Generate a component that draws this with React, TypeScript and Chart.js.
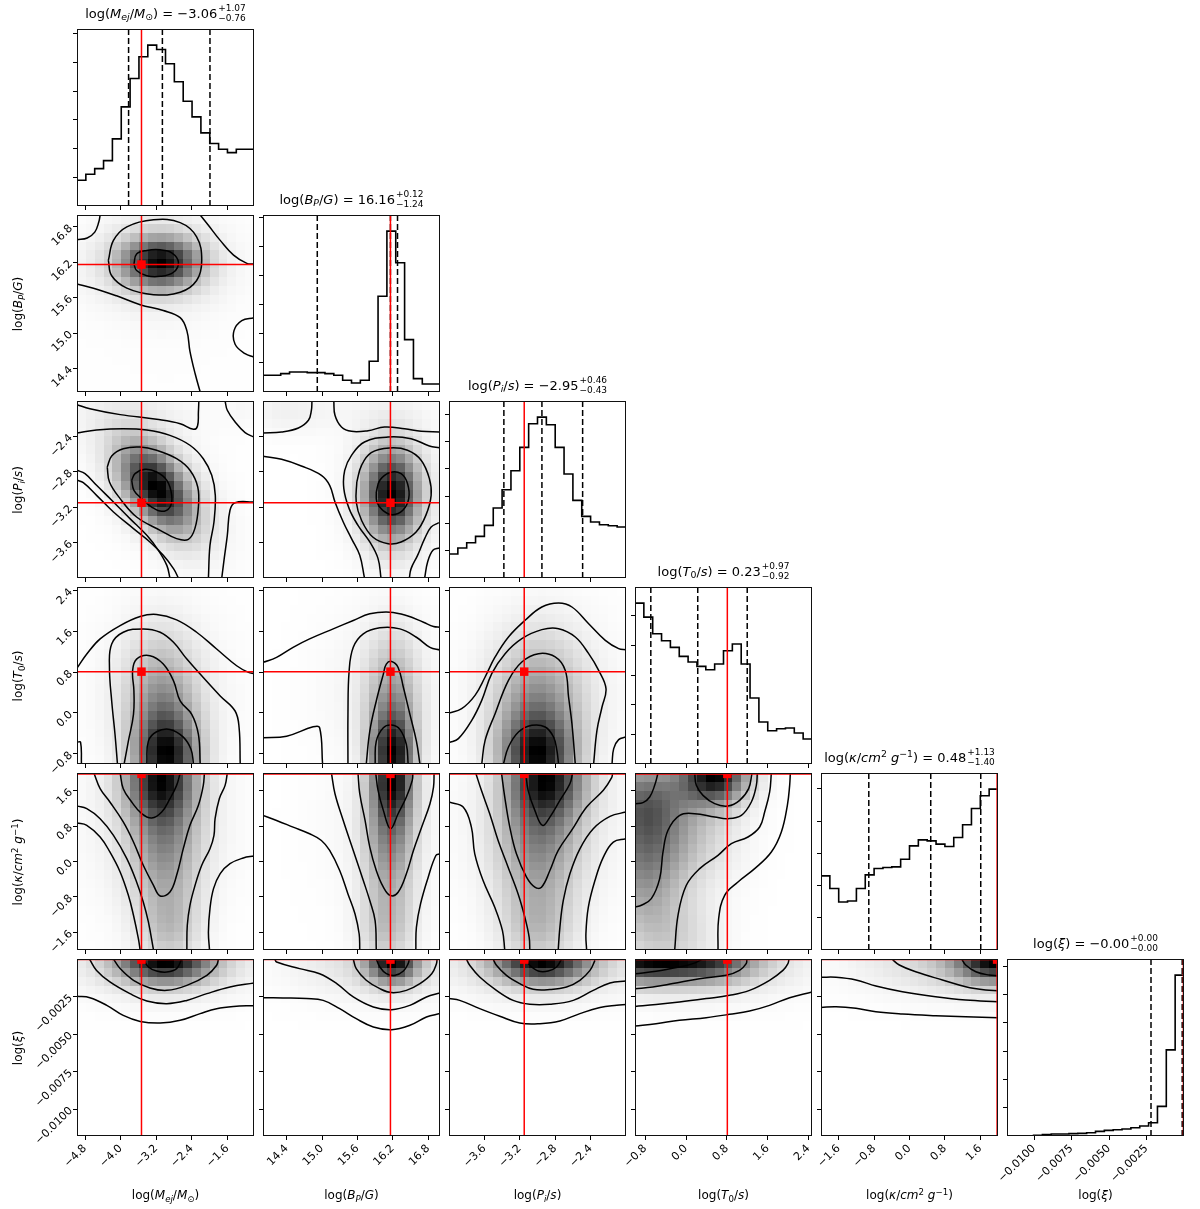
import React, { useEffect, useRef } from "react";
import { Chart, registerables } from "chart.js";

Chart.register(...registerables);

const FONT = "'DejaVu Sans', 'Liberation Sans', sans-serif";

// ---------------- parameter axes ----------------
const RANGE_M = [-4.98, -1.0];
const RANGE_B = [14.0, 17.0];
const RANGE_P = [-4.0, -2.0];
const RANGE_T = [-1.0, 2.47];
const RANGE_K = [-2.0, 2.0];
const RANGE_X = [-0.0118, 0.0];

const TICKS_M = [-4.8, -4.0, -3.2, -2.4, -1.6];
const TICKS_B = [14.4, 15.0, 15.6, 16.2, 16.8];
const TICKS_P = [-3.6, -3.2, -2.8, -2.4];
const TICKS_T = [-0.8, 0.0, 0.8, 1.6, 2.4];
const TICKS_K = [-1.6, -0.8, 0.0, 0.8, 1.6];
const TICKS_X = [-0.01, -0.0075, -0.005, -0.0025];

const TRUTH = [-3.53, 16.16, -3.15, 0.81, 1.98, -0.00004];

// 16%, 50%, 84% quantiles (dashed lines, titles)
const QUANT_M = [-3.82, -3.06, -1.99];
const QUANT_B = [14.92, 16.16, 16.28];
const QUANT_P = [-3.38, -2.95, -2.49];
const QUANT_T = [-0.69, 0.23, 1.2];
const QUANT_K = [-0.92, 0.48, 1.61];
const QUANT_X = [-0.0022, -0.00012, -0.00003];

// ---------------- 1D histograms (20 bins) ----------------
const HIST_M = [77, 95, 112, 136, 201, 297, 382, 447, 482, 469, 426, 372, 314, 267, 219, 187, 170, 160, 170, 170];
const HIST_B = [50, 50, 55, 60, 60, 58, 58, 55, 50, 35, 27, 35, 92, 287, 482, 387, 157, 40, 24, 24];
const HIST_P = [72, 90, 106, 125, 158, 210, 265, 322, 392, 463, 483, 460, 392, 312, 233, 185, 168, 160, 157, 153];
const HIST_T = [483, 441, 391, 370, 350, 323, 306, 293, 283, 300, 340, 360, 300, 198, 126, 100, 106, 108, 93, 75];
const HIST_K = [222, 184, 144, 147, 184, 225, 244, 247, 249, 272, 312, 330, 327, 317, 310, 337, 375, 424, 462, 482];
const HIST_X = [0, 0, 0, 2, 4, 6, 6, 7, 8, 10, 14, 17, 19, 21, 25, 30, 40, 89, 259, 484];
const HIST_YSTEP = [86, 87, 82, 89, 96.5, 85];

// ---------------- 2D density components [cx, cy, sx, sy, rho, amp] ----------------
const DENS_B_M = [[-3.1, 16.2, 0.65, 0.32, 0, 1.0], [-3.2, 16.2, 1.2, 0.6, 0, 0.35], [-3.0, 15.0, 2.0, 1.5, 0, 0.05]];
const DENS_P_M = [[-3.2, -2.98, 0.6, 0.36, -0.5, 1.0], [-3.1, -3.0, 1.1, 0.6, -0.5, 0.35], [-3.5, -2.1, 1.5, 0.25, 0, 0.12], [-1.2, -2.0, 0.3, 0.25, 0, 0.1]];
const DENS_P_B = [[16.18, -3.05, 0.34, 0.38, 0, 1.0], [16.2, -3.05, 0.6, 0.6, 0, 0.35], [14.4, -2.1, 0.5, 0.25, 0, 0.14], [15.5, -2.1, 1.5, 0.2, 0, 0.08]];
const DENS_T_M = [[-2.95, -0.95, 0.55, 0.65, 0, 1.0], [-3.1, 0.3, 0.6, 0.95, 0, 0.5], [-3.0, 0.4, 1.3, 1.4, 0, 0.2]];
const DENS_T_B = [[16.2, -0.95, 0.28, 0.65, 0, 1.0], [16.2, 0.3, 0.33, 0.95, 0, 0.5], [16.0, 0.4, 0.9, 1.4, 0, 0.18]];
const DENS_T_P = [[-3.0, -0.95, 0.32, 0.65, 0, 1.0], [-3.0, 0.3, 0.38, 0.95, 0, 0.5], [-2.9, 0.4, 0.7, 1.4, 0, 0.2]];
const DENS_K_M = [[-3.1, 2.0, 0.6, 0.75, 0, 1.0], [-3.0, 0.3, 0.6, 1.0, 0, 0.55], [-2.9, -1.6, 0.55, 0.7, 0, 0.4], [-3.2, 1.0, 1.4, 1.8, 0, 0.22]];
const DENS_K_B = [[16.2, 2.0, 0.28, 0.8, 0, 1.0], [16.15, 0.3, 0.33, 1.0, 0, 0.55], [16.1, -1.6, 0.38, 0.7, 0, 0.38], [16.0, 1.0, 0.9, 1.8, 0, 0.14]];
const DENS_K_P = [[-2.9, 2.0, 0.33, 0.75, 0, 1.0], [-3.0, 0.3, 0.35, 1.0, 0, 0.55], [-3.0, -1.6, 0.33, 0.7, 0, 0.4], [-2.9, 1.0, 0.75, 1.8, 0, 0.22]];
const DENS_K_T = [[0.6, 2.0, 0.5, 0.5, 0, 1.0], [-0.9, 1.5, 0.65, 0.75, 0, 0.55], [-0.9, -0.2, 0.6, 1.0, 0, 0.5], [0.0, 0.6, 0.85, 0.95, 0, 0.35], [-0.3, -1.8, 0.75, 0.7, 0, 0.3]];
const DENS_X_M = [[-3.0, 0.0, 0.8, 0.0012, 0, 1.0], [-3.0, 0.0, 1.7, 0.0021, 0, 0.35]];
const DENS_X_B = [[16.2, 0.0, 0.32, 0.0012, 0, 1.0], [16.0, 0.0, 1.2, 0.0021, 0, 0.35]];
const DENS_X_P = [[-2.95, 0.0, 0.4, 0.0012, 0, 1.0], [-2.9, 0.0, 1.0, 0.0021, 0, 0.35]];
const DENS_X_T = [[-0.9, 0.0, 0.9, 0.0012, 0, 1.0], [0.6, 0.0, 0.7, 0.0011, 0, 0.6], [0.3, 0.0, 1.8, 0.0021, 0, 0.35]];
const DENS_X_K = [[2.0, 0.0, 0.7, 0.0012, 0, 1.0], [1.0, 0.0, 1.7, 0.0019, 0, 0.4]];

// ---------------- contour lines (data coordinates [x, y]) ----------------
const CONT_B_M = [
  [[-3.7, 16.17], [-3.64, 16.34], [-3.41, 16.4], [-3.11, 16.41], [-2.85, 16.36], [-2.7, 16.2], [-2.81, 16.03], [-3.11, 15.96], [-3.41, 15.97], [-3.64, 16.06], [-3.7, 16.17]],
  [[-4.275, 16.23], [-4.16, 16.57], [-3.86, 16.8], [-3.26, 16.92], [-2.66, 16.87], [-2.29, 16.63], [-2.175, 16.23], [-2.29, 15.89], [-2.66, 15.69], [-3.26, 15.65], [-3.86, 15.76], [-4.2, 15.97], [-4.275, 16.23]],
  [[-4.98, 16.58], [-4.75, 16.61], [-4.58, 16.71], [-4.49, 16.88], [-4.46, 17.0]],
  [[-2.21, 17.0], [-2.03, 16.83], [-1.76, 16.57], [-1.46, 16.32], [-1.16, 16.18], [-1.0, 16.17]],
  [[-4.98, 15.83], [-4.61, 15.76], [-4.09, 15.63], [-3.56, 15.48], [-3.04, 15.38], [-2.66, 15.26], [-2.51, 15.04], [-2.44, 14.69], [-2.32, 14.3], [-2.21, 14.0]],
  [[-1.0, 15.26], [-1.275, 15.21], [-1.45, 15.04], [-1.425, 14.81], [-1.2, 14.65], [-1.0, 14.59]],
];
const CONT_P_M = [
  [[-3.75, -2.896], [-3.675, -2.821], [-3.45, -2.772], [-3.19, -2.802], [-2.96, -2.896], [-2.85, -3.066], [-2.89, -3.198], [-3.075, -3.247], [-3.3, -3.198], [-3.525, -3.103], [-3.7, -3.009], [-3.75, -2.896]],
  [[-4.3, -2.746], [-4.2, -2.621], [-3.94, -2.539], [-3.56, -2.52], [-3.19, -2.557], [-2.74, -2.652], [-2.44, -2.783], [-2.265, -2.972], [-2.25, -3.198], [-2.33, -3.442], [-2.475, -3.563], [-2.74, -3.555], [-3.11, -3.461], [-3.64, -3.311], [-4.01, -3.103], [-4.25, -2.915], [-4.3, -2.746]],
  [[-4.98, -2.041], [-4.69, -2.087], [-4.01, -2.154], [-3.19, -2.207], [-2.66, -2.256], [-2.36, -2.32], [-2.27, -2.282], [-2.25, -2.124], [-2.24, -2.0]],
  [[-1.65, -2.0], [-1.6, -2.105], [-1.425, -2.237], [-1.2, -2.358], [-1.0, -2.407]],
  [[-4.98, -2.362], [-4.54, -2.328], [-3.94, -2.313], [-3.41, -2.328], [-2.89, -2.388], [-2.44, -2.5], [-2.14, -2.652], [-1.95, -2.84], [-1.87, -3.066], [-1.9, -3.367], [-1.99, -3.631], [-2.025, -4.0]],
  [[-1.0, -3.141], [-1.425, -3.149], [-1.54, -3.235], [-1.6, -3.518], [-1.67, -3.781], [-1.725, -4.0]],
  [[-4.98, -2.783], [-4.8, -2.821], [-4.54, -2.953], [-4.16, -3.141], [-3.79, -3.329], [-3.41, -3.518], [-3.15, -3.687], [-2.96, -3.857], [-2.89, -4.0]],
  [[-4.98, -2.896], [-4.838, -2.923], [-4.54, -3.066], [-4.16, -3.254], [-3.71, -3.442], [-3.34, -3.593], [-3.04, -3.744], [-2.81, -3.894], [-2.7, -4.0]],
];
const CONT_P_B = [
  [[15.92, -3.028], [15.98, -2.896], [16.145, -2.81], [16.34, -2.821], [16.45, -2.934], [16.47, -3.103], [16.37, -3.235], [16.2, -3.284], [16.03, -3.235], [15.93, -3.141], [15.92, -3.028]],
  [[15.59, -2.915], [15.67, -2.727], [15.835, -2.584], [16.145, -2.531], [16.45, -2.557], [16.68, -2.67], [16.82, -2.877], [16.85, -3.066], [16.76, -3.292], [16.595, -3.48], [16.34, -3.593], [16.12, -3.612], [15.86, -3.537], [15.67, -3.348], [15.58, -3.141], [15.59, -2.915]],
  [[16.99, -2.527], [16.82, -2.508], [16.51, -2.426], [16.12, -2.407], [15.72, -2.463], [15.5, -2.614], [15.385, -2.783], [15.37, -2.99], [15.46, -3.216], [15.61, -3.405], [15.81, -3.593], [15.95, -3.781], [16.0, -4.0]],
  [[16.98, -3.375], [16.85, -3.424], [16.74, -3.555], [16.62, -3.744], [16.51, -3.894], [16.48, -4.0]],
  [[14.83, -2.0], [14.82, -2.105], [14.77, -2.218], [14.6, -2.305], [14.315, -2.35], [14.0, -2.362]],
  [[15.2, -2.0], [15.22, -2.162], [15.33, -2.294], [15.5, -2.343], [15.78, -2.335], [16.06, -2.294], [16.4, -2.313], [16.68, -2.343], [16.99, -2.35]],
  [[14.0, -2.625], [14.315, -2.659], [14.65, -2.734], [14.99, -2.84], [15.13, -2.953], [15.22, -3.141], [15.36, -3.367], [15.5, -3.555], [15.64, -3.744], [15.72, -4.0]],
  [[16.99, -3.661], [16.88, -3.687], [16.79, -3.819], [16.74, -4.0]],
];
const CONT_T_M = [
  [[-4.98, 0.88], [-4.76, 1.156], [-4.46, 1.452], [-4.01, 1.714], [-3.56, 1.892], [-3.19, 1.931], [-2.74, 1.826], [-2.29, 1.583], [-1.84, 1.254], [-1.39, 0.926], [-1.125, 0.795], [-1.0, 0.775]],
  [[-4.07, -1.0], [-4.125, -0.421], [-4.2, 0.236], [-4.25, 0.893], [-4.2, 1.353], [-3.94, 1.583], [-3.49, 1.649], [-3.11, 1.583], [-2.81, 1.386], [-2.51, 1.057], [-2.14, 0.696], [-1.76, 0.335], [-1.425, 0.039], [-1.335, -0.289], [-1.31, -1.0]],
  [[-3.92, -1.0], [-3.825, -0.552], [-3.71, -0.027], [-3.7, 0.433], [-3.73, 0.827], [-3.64, 1.057], [-3.34, 1.123], [-3.04, 0.959], [-2.81, 0.63], [-2.66, 0.236], [-2.4, -0.027], [-2.25, -0.421], [-2.21, -1.0]],
  [[-3.41, -1.0], [-3.375, -0.552], [-3.19, -0.368], [-2.89, -0.322], [-2.59, -0.473], [-2.415, -0.716], [-2.36, -1.0]],
  [[-4.98, -0.572], [-4.9, -0.572], [-4.88, -1.0]],
];
const CONT_T_B = [
  [[14.0, 0.992], [14.23, 1.09], [14.51, 1.287], [14.79, 1.452], [15.19, 1.649], [15.53, 1.813], [15.81, 1.944], [16.15, 1.977], [16.43, 1.912], [16.72, 1.78], [16.89, 1.695], [17.0, 1.682]],
  [[15.44, -1.0], [15.44, -0.027], [15.46, 0.827], [15.53, 1.287], [15.7, 1.55], [15.98, 1.669], [16.32, 1.649], [16.6, 1.485], [16.83, 1.287], [17.0, 1.235]],
  [[15.75, -1.0], [15.81, -0.355], [15.92, 0.236], [16.04, 0.762], [16.09, 0.959], [16.18, 1.011], [16.29, 0.893], [16.38, 0.499], [16.49, -0.027], [16.6, -0.552], [16.66, -1.0]],
  [[15.9, -1.0], [15.92, -0.552], [16.04, -0.289], [16.18, -0.237], [16.32, -0.322], [16.43, -0.618], [16.46, -1.0]],
  [[14.0, -0.487], [14.4, -0.454], [14.85, -0.27], [14.96, -0.289], [15.01, -1.0]],
];
const CONT_T_P = [
  [[-4.0, 0.0], [-3.857, 0.085], [-3.706, 0.346], [-3.592, 0.706], [-3.479, 1.098], [-3.328, 1.49], [-3.14, 1.817], [-2.951, 2.078], [-2.762, 2.156], [-2.611, 2.078], [-2.422, 1.751], [-2.234, 1.424], [-2.083, 1.261], [-2.0, 1.241]],
  [[-4.0, -0.582], [-3.894, -0.503], [-3.743, -0.144], [-3.63, 0.248], [-3.517, 0.771], [-3.366, 1.163], [-3.177, 1.457], [-2.951, 1.634], [-2.762, 1.653], [-2.573, 1.49], [-2.422, 1.163], [-2.309, 0.836], [-2.226, 0.477], [-2.271, 0.117], [-2.328, -0.34], [-2.366, -1.0]],
  [[-3.63, -1.0], [-3.592, -0.536], [-3.479, -0.013], [-3.328, 0.64], [-3.177, 1.0], [-2.989, 1.163], [-2.8, 1.098], [-2.687, 0.836], [-2.649, 0.313], [-2.611, -0.209], [-2.573, -1.0]],
  [[-3.385, -1.0], [-3.328, -0.667], [-3.215, -0.373], [-3.064, -0.242], [-2.913, -0.275], [-2.819, -0.471], [-2.781, -0.732], [-2.762, -1.0]],
  [[-2.158, -1.0], [-2.139, -0.699], [-2.083, -0.523], [-2.0, -0.471]],
];
const CONT_K_M = [
  [[-4.01, 2.0], [-3.94, 1.646], [-3.75, 1.345], [-3.525, 1.081], [-3.3, 0.983], [-3.075, 1.119], [-2.89, 1.42], [-2.74, 1.72], [-2.66, 2.0]],
  [[-4.6, 2.0], [-4.46, 1.646], [-4.24, 1.345], [-3.94, 0.893], [-3.71, 0.441], [-3.49, -0.086], [-3.26, -0.538], [-3.11, -0.779], [-2.89, -0.688], [-2.74, -0.312], [-2.59, 0.29], [-2.44, 0.818], [-2.25, 1.27], [-2.14, 1.72], [-2.115, 2.0]],
  [[-4.98, 1.255], [-4.76, 1.194], [-4.46, 0.968], [-4.16, 0.592], [-3.86, 0.065], [-3.64, -0.462], [-3.49, -0.914], [-3.375, -1.366], [-3.26, -2.0]],
  [[-4.98, 0.87], [-4.76, 0.818], [-4.46, 0.554], [-4.24, 0.215], [-4.01, -0.236], [-3.825, -0.764], [-3.71, -1.215], [-3.6, -1.742], [-3.56, -2.0]],
  [[-1.6, 2.0], [-1.65, 1.72], [-1.78, 1.42], [-1.875, 0.968], [-1.9, 0.592], [-1.99, 0.29], [-2.175, -0.086], [-2.325, -0.538], [-2.44, -0.99], [-2.5, -1.441], [-2.51, -2.0]],
  [[-1.0, 0.125], [-1.24, 0.08], [-1.54, -0.048], [-1.76, -0.274], [-1.91, -0.613], [-1.99, -1.065], [-2.025, -1.592], [-2.0, -2.0]],
];
const CONT_K_B = [
  [[15.91, 2.0], [15.95, 1.608], [16.04, 1.155], [16.16, 0.74], [16.29, 1.079], [16.43, 1.457], [16.53, 1.834], [16.54, 2.0]],
  [[15.61, 2.0], [15.64, 1.532], [15.73, 0.928], [15.81, 0.325], [15.92, -0.204], [16.04, -0.581], [16.16, -0.77], [16.29, -0.694], [16.43, -0.279], [16.55, 0.249], [16.69, 0.777], [16.83, 1.306], [16.89, 1.683], [16.9, 2.0]],
  [[15.16, 2.0], [15.22, 1.532], [15.36, 0.928], [15.53, 0.249], [15.7, -0.43], [15.81, -0.883], [15.9, -1.336], [15.92, -2.0]],
  [[14.0, 1.042], [14.23, 0.928], [14.51, 0.777], [14.79, 0.626], [14.99, 0.475], [15.13, 0.249], [15.3, -0.204], [15.44, -0.732], [15.56, -1.185], [15.63, -1.638], [15.64, -2.0]],
  [[17.0, 0.174], [16.93, 0.136], [16.8, -0.355], [16.67, -0.958], [16.6, -1.487], [16.59, -2.0]],
];
const CONT_K_P = [
  [[-3.132, 2.0], [-3.106, 1.608], [-3.03, 1.155], [-2.943, 0.815], [-2.86, 1.004], [-2.747, 1.381], [-2.634, 1.758], [-2.604, 2.0]],
  [[-3.407, 2.0], [-3.37, 1.457], [-3.313, 0.777], [-3.238, 0.174], [-3.124, -0.355], [-3.03, -0.581], [-2.955, -0.581], [-2.86, -0.204], [-2.766, 0.249], [-2.615, 0.702], [-2.445, 1.23], [-2.256, 1.608], [-2.162, 1.894], [-2.151, 2.0]],
  [[-3.698, 2.0], [-3.634, 1.608], [-3.54, 1.079], [-3.445, 0.475], [-3.332, -0.128], [-3.219, -0.732], [-3.143, -1.26], [-3.094, -1.713], [-3.087, -2.0]],
  [[-4.0, 1.343], [-3.84, 1.23], [-3.747, 0.777], [-3.709, 0.174], [-3.615, -0.43], [-3.483, -1.034], [-3.396, -1.562], [-3.37, -2.0]],
  [[-2.0, 1.117], [-2.181, 1.019], [-2.37, 0.74], [-2.521, 0.287], [-2.634, -0.279], [-2.709, -0.883], [-2.747, -1.487], [-2.766, -2.0]],
  [[-2.0, 0.513], [-2.143, 0.438], [-2.256, 0.098], [-2.351, -0.43], [-2.426, -1.034], [-2.453, -1.638], [-2.445, -2.0]],
];
const CONT_K_T = [
  [[0.17, 2.0], [0.202, 1.721], [0.333, 1.495], [0.562, 1.307], [0.823, 1.255], [1.052, 1.383], [1.228, 1.646], [1.294, 2.0]],
  [[-1.0, -1.027], [-0.876, -0.989], [-0.68, -0.839], [-0.516, -0.387], [-0.451, 0.215], [-0.353, 0.705], [-0.124, 1.044], [0.17, 1.081], [0.562, 1.006], [0.823, 0.968], [1.085, 1.044], [1.281, 1.345], [1.379, 1.721], [1.398, 2.0]],
  [[-0.222, -2.0], [-0.157, -1.215], [0.006, -0.538], [0.268, -0.161], [0.627, 0.14], [0.889, 0.404], [1.215, 0.554], [1.444, 0.78], [1.542, 1.119], [1.64, 1.571], [1.673, 2.0]],
  [[0.627, -2.0], [0.64, -1.291], [0.758, -0.764], [1.019, -0.462], [1.346, -0.161], [1.673, 0.215], [1.869, 0.667], [1.987, 1.27], [2.032, 1.721], [2.045, 2.0]],
  [[-1.0, 1.307], [-0.843, 1.33], [-0.712, 1.458], [-0.614, 1.721], [-0.549, 2.0]],
];
const CONT_X_M = [
  [[-3.49, 0], [-3.375, -0.00053], [-3.19, -0.0008], [-2.96, -0.00087], [-2.74, -0.00064], [-2.625, 0]],
  [[-4.16, 0], [-4.01, -0.00064], [-3.71, -0.00142], [-3.34, -0.00193], [-2.96, -0.00209], [-2.51, -0.00176], [-2.06, -0.00109], [-1.84, -0.00042], [-1.8, 0]],
  [[-4.7, 0], [-4.54, -0.00076], [-4.24, -0.00153], [-3.79, -0.00231], [-3.41, -0.0028], [-2.96, -0.00298], [-2.51, -0.00276], [-2.06, -0.00231], [-1.54, -0.00187], [-1.0, -0.0016]],
  [[-4.98, -0.00249], [-4.69, -0.00258], [-4.31, -0.00309], [-3.94, -0.00376], [-3.56, -0.00416], [-3.11, -0.00427], [-2.66, -0.00409], [-2.21, -0.00364], [-1.84, -0.00331], [-1.46, -0.00316], [-1.0, -0.00311]],
];
const CONT_X_B = [
  [[15.92, 0], [15.98, -0.00053], [16.09, -0.00098], [16.24, -0.00109], [16.38, -0.0008], [16.46, -0.00031], [16.48, 0]],
  [[15.53, 0], [15.58, -0.00064], [15.75, -0.00142], [15.98, -0.00198], [16.18, -0.00224], [16.43, -0.00209], [16.66, -0.00164], [16.86, -0.00098], [16.94, -0.00031], [16.95, 0]],
  [[14.2, 0], [14.23, -0.0002], [14.62, -0.00064], [14.96, -0.00098], [15.25, -0.00164], [15.53, -0.00253], [15.87, -0.0032], [16.18, -0.00338], [16.49, -0.00309], [16.77, -0.00253], [17.0, -0.00227]],
  [[14.0, -0.00258], [14.34, -0.0026], [14.74, -0.00264], [15.02, -0.00276], [15.3, -0.00331], [15.58, -0.00398], [15.87, -0.00453], [16.18, -0.00471], [16.49, -0.00442], [16.77, -0.00387], [17.0, -0.00364]],
];
const CONT_X_P = [
  [[-3.132, 0], [-3.087, -0.00042], [-2.992, -0.0008], [-2.879, -0.0008], [-2.785, -0.00053], [-2.728, 0]],
  [[-3.502, 0], [-3.464, -0.00042], [-3.351, -0.00109], [-3.2, -0.00164], [-3.049, -0.00202], [-2.86, -0.00204], [-2.672, -0.00187], [-2.521, -0.00142], [-2.407, -0.00076], [-2.351, -0.00009]],
  [[-3.804, 0], [-3.766, -0.00042], [-3.653, -0.0012], [-3.464, -0.00209], [-3.275, -0.00276], [-3.087, -0.00302], [-2.86, -0.00302], [-2.596, -0.00276], [-2.37, -0.00209], [-2.181, -0.0016], [-2.0, -0.00147]],
  [[-4.0, -0.00264], [-3.879, -0.00276], [-3.653, -0.00331], [-3.426, -0.00382], [-3.2, -0.00427], [-2.973, -0.00431], [-2.747, -0.00413], [-2.521, -0.00364], [-2.294, -0.00324], [-2.105, -0.00309], [-2.0, -0.00304]],
];
const CONT_X_T = [
  [[-1.0, -0.00098], [-0.588, -0.00082], [-0.129, -0.00053], [0.133, -0.00031], [0.329, 0]],
  [[-1.0, -0.00198], [-0.653, -0.00187], [-0.26, -0.00164], [0.264, -0.00131], [0.787, -0.00109], [1.049, -0.00076], [1.18, -0.00031], [1.193, 0]],
  [[-1.0, -0.00316], [-0.588, -0.00304], [-0.129, -0.00287], [0.395, -0.00264], [0.853, -0.00242], [1.246, -0.00209], [1.638, -0.00142], [1.9, -0.00076], [1.998, -0.00031], [2.018, 0]],
  [[-1.0, -0.00447], [-0.588, -0.00431], [-0.129, -0.00409], [0.395, -0.00391], [0.853, -0.00369], [1.246, -0.00347], [1.638, -0.00309], [2.031, -0.00258], [2.47, -0.0022]],
];
const CONT_X_K = [
  [[1.18, 0], [1.27, -0.0004], [1.5, -0.00085], [1.8, -0.00107], [2.0, -0.00111]],
  [[-0.4, 0], [-0.23, -0.0004], [0.14, -0.00085], [0.745, -0.0014], [1.27, -0.00185], [1.72, -0.00207], [2.0, -0.00211]],
  [[-2.0, -0.00122], [-1.66, -0.00122], [-1.21, -0.0014], [-0.76, -0.0018], [-0.16, -0.00218], [0.59, -0.00252], [1.27, -0.00274], [2.0, -0.00285]],
  [[-2.0, -0.00323], [-1.66, -0.00318], [-1.21, -0.00329], [-0.76, -0.00352], [-0.16, -0.00367], [0.59, -0.00378], [1.27, -0.00385], [2.0, -0.00392]],
];

// ---------------- assembled lookups ----------------
const PARAMS = [
  { range: RANGE_M, ticks: TICKS_M, quant: QUANT_M, hist: HIST_M, dec: 1 },
  { range: RANGE_B, ticks: TICKS_B, quant: QUANT_B, hist: HIST_B, dec: 1 },
  { range: RANGE_P, ticks: TICKS_P, quant: QUANT_P, hist: HIST_P, dec: 1 },
  { range: RANGE_T, ticks: TICKS_T, quant: QUANT_T, hist: HIST_T, dec: 1 },
  { range: RANGE_K, ticks: TICKS_K, quant: QUANT_K, hist: HIST_K, dec: 1 },
  { range: RANGE_X, ticks: TICKS_X, quant: QUANT_X, hist: HIST_X, dec: 4 },
];
const PAIRS: Record<string, { cont: number[][][]; dens: number[][] }> = {
  "1-0": { cont: CONT_B_M, dens: DENS_B_M },
  "2-0": { cont: CONT_P_M, dens: DENS_P_M },
  "2-1": { cont: CONT_P_B, dens: DENS_P_B },
  "3-0": { cont: CONT_T_M, dens: DENS_T_M },
  "3-1": { cont: CONT_T_B, dens: DENS_T_B },
  "3-2": { cont: CONT_T_P, dens: DENS_T_P },
  "4-0": { cont: CONT_K_M, dens: DENS_K_M },
  "4-1": { cont: CONT_K_B, dens: DENS_K_B },
  "4-2": { cont: CONT_K_P, dens: DENS_K_P },
  "4-3": { cont: CONT_K_T, dens: DENS_K_T },
  "5-0": { cont: CONT_X_M, dens: DENS_X_M },
  "5-1": { cont: CONT_X_B, dens: DENS_X_B },
  "5-2": { cont: CONT_X_P, dens: DENS_X_P },
  "5-3": { cont: CONT_X_T, dens: DENS_X_T },
  "5-4": { cont: CONT_X_K, dens: DENS_X_K },
};

// ---------------- layout ----------------
const N = 6;
const X0 = 77;
const Y0 = 29;
const STEP = 186;
const SIZE = 177;
const PAD_L = 70;
const PAD_B = 70;
const PAD_T = 20;
const PAD_R = 20;
const CW = PAD_L + SIZE + PAD_R;
const CH = PAD_T + SIZE + PAD_B;
const NBINS = 20;
const GAMMA = 1.5;

const minus = (s: string) => s.replace(/-/g, "\u2212");
const fmt = (v: number, dec: number) => minus(Number(v).toFixed(dec));

function axisOptions(isX: boolean, min: number, max: number, ticks: number[], labels: boolean, dec: number) {
  return {
    type: "linear",
    position: isX ? "bottom" : "left",
    min,
    max,
    afterBuildTicks: (s: any) => {
      s.ticks = ticks.map((v) => ({ value: v }));
    },
    afterFit: (s: any) => {
      if (isX) s.height = PAD_B;
      else s.width = PAD_L;
    },
    ticks: {
      display: labels,
      autoSkip: false,
      minRotation: 45,
      maxRotation: 45,
      padding: 2,
      color: "#000",
      font: { family: FONT, size: 11 },
      callback: (v: any) => fmt(v, dec),
    },
    grid: { display: true, drawOnChartArea: false, drawTicks: true, tickLength: 4, tickColor: "#000", tickWidth: 1 },
    border: { display: false },
  };
}

const framePlugin = {
  id: "frame",
  afterDraw(chart: any) {
    const { ctx, chartArea: a } = chart;
    ctx.save();
    ctx.strokeStyle = "#111";
    ctx.lineWidth = 1;
    ctx.strokeRect(Math.round(a.left) + 0.5, Math.round(a.top) + 0.5, Math.round(a.right - a.left) - 1, Math.round(a.bottom - a.top) - 1);
    ctx.restore();
  },
};

function densityPlugin(blobs: number[][], rx: number[], ry: number[]) {
  return {
    id: "density",
    beforeDatasetsDraw(chart: any) {
      const { ctx, chartArea: a, scales } = chart;
      const xs = scales.x;
      const ys = scales.y;
      const dx = (rx[1] - rx[0]) / NBINS;
      const dy = (ry[1] - ry[0]) / NBINS;
      const vals: number[][] = [];
      let mx = 0;
      for (let i = 0; i < NBINS; i++) {
        vals.push([]);
        for (let j = 0; j < NBINS; j++) {
          const x = rx[0] + (i + 0.5) * dx;
          const y = ry[0] + (j + 0.5) * dy;
          let d = 0;
          for (const [cx, cy, sx, sy, rho, amp] of blobs) {
            const u = (x - cx) / sx;
            const w = (y - cy) / sy;
            const q = (u * u - 2 * rho * u * w + w * w) / (1 - rho * rho);
            d += amp * Math.exp(-0.5 * q);
          }
          vals[i].push(d);
          if (d > mx) mx = d;
        }
      }
      ctx.save();
      ctx.beginPath();
      ctx.rect(a.left, a.top, a.right - a.left, a.bottom - a.top);
      ctx.clip();
      for (let i = 0; i < NBINS; i++) {
        const px0 = Math.round(xs.getPixelForValue(rx[0] + i * dx));
        const px1 = Math.round(xs.getPixelForValue(rx[0] + (i + 1) * dx));
        for (let j = 0; j < NBINS; j++) {
          const py0 = Math.round(ys.getPixelForValue(ry[0] + j * dy));
          const py1 = Math.round(ys.getPixelForValue(ry[0] + (j + 1) * dy));
          const f = vals[i][j] / mx;
          const g = Math.round(255 * (1 - Math.pow(f, GAMMA)));
          ctx.fillStyle = `rgb(${g},${g},${g})`;
          ctx.fillRect(px0, py1, px1 - px0, py0 - py1);
        }
      }
      ctx.restore();
    },
  };
}

function vLine(x: number, y0: number, y1: number, color: string, dash: number[] = []) {
  return {
    data: [{ x, y: y0 }, { x, y: y1 }],
    showLine: true,
    borderColor: color,
    borderWidth: 1.5,
    borderDash: dash,
    pointRadius: 0,
    clip: 0,
  };
}
function hLine(y: number, x0: number, x1: number, color: string) {
  return {
    data: [{ x: x0, y }, { x: x1, y }],
    showLine: true,
    borderColor: color,
    borderWidth: 1.5,
    pointRadius: 0,
    clip: 0,
  };
}

function buildConfig(r: number, c: number) {
  const px = PARAMS[c];
  const xAxis = axisOptions(true, px.range[0], px.range[1], px.ticks, r === N - 1, px.dec);
  let yAxis: any;
  let datasets: any[] = [];
  const plugins: any[] = [framePlugin];

  if (r === c) {
    const h = px.hist;
    const top = 1.1 * Math.max(...h);
    const step = HIST_YSTEP[c];
    const yt: number[] = [];
    for (let v = step; v <= top; v += step) yt.push(v);
    yAxis = axisOptions(false, 0, top, yt, false, 0);
    const bw = (px.range[1] - px.range[0]) / NBINS;
    const stepPts: any[] = [];
    h.forEach((v, i) => {
      stepPts.push({ x: px.range[0] + i * bw, y: v });
      stepPts.push({ x: px.range[0] + (i + 1) * bw, y: v });
    });
    datasets = [
      vLine(TRUTH[c], 0, top, "#ff0000"),
      ...px.quant.map((q) => vLine(q, 0, top, "#000", [6, 3])),
      { data: stepPts, showLine: true, borderColor: "#000", borderWidth: 1.6, pointRadius: 0, borderJoinStyle: "miter", clip: 0 },
    ];
  } else {
    const py = PARAMS[r];
    yAxis = axisOptions(false, py.range[0], py.range[1], py.ticks, c === 0, py.dec);
    const pair = PAIRS[`${r}-${c}`];
    plugins.push(densityPlugin(pair.dens, px.range, py.range));
    datasets = [
      {
        data: [{ x: TRUTH[c], y: TRUTH[r] }],
        pointStyle: "rect",
        pointRadius: 6,
        backgroundColor: "#ff0000",
        borderWidth: 0,
        showLine: false,
        clip: 0,
      },
      vLine(TRUTH[c], py.range[0], py.range[1], "#ff0000"),
      hLine(TRUTH[r], px.range[0], px.range[1], "#ff0000"),
      ...pair.cont.map((line) => ({
        data: line.map(([x, y]) => ({ x, y })),
        showLine: true,
        borderColor: "#000",
        borderWidth: 1.5,
        pointRadius: 0,
        tension: 0.4,
        clip: 0,
      })),
    ];
  }

  return {
    type: "scatter",
    data: { datasets },
    options: {
      animation: false,
      responsive: false,
      maintainAspectRatio: false,
      events: [],
      layout: { padding: { left: 0, top: PAD_T, right: PAD_R, bottom: 0 } },
      plugins: { legend: { display: false }, tooltip: { enabled: false }, title: { display: false } },
      scales: { x: xAxis, y: yAxis },
    },
    plugins,
  } as any;
}

// ---------------- text ----------------
const Sub = ({ children }: any) => <span style={{ fontSize: "0.72em", position: "relative", top: "0.32em" }}>{children}</span>;
const Sup = ({ children }: any) => <span style={{ fontSize: "0.72em", position: "relative", top: "-0.45em" }}>{children}</span>;

const LABELS = [
  <>log(<i>M</i><Sub><i>ej</i></Sub>/<i>M</i><Sub>⊙</Sub>)</>,
  <>log(<i>B</i><Sub><i>P</i></Sub>/<i>G</i>)</>,
  <>log(<i>P</i><Sub><i>i</i></Sub>/<i>s</i>)</>,
  <>log(<i>T</i><Sub>0</Sub>/<i>s</i>)</>,
  <>log(<i>κ</i>/<i>cm</i><Sup>2</Sup> <i>g</i><Sup>−1</Sup>)</>,
  <>log(<i>ξ</i>)</>,
];

const PANELS: { r: number; c: number }[] = [];
for (let r = 0; r < N; r++) for (let c = 0; c <= r; c++) PANELS.push({ r, c });

export default function App() {
  const refs = useRef<Record<string, HTMLCanvasElement | null>>({});

  useEffect(() => {
    Chart.defaults.font.family = FONT;
    const charts: Chart[] = [];
    for (const p of PANELS) {
      const cv = refs.current[`${p.r}-${p.c}`];
      if (cv) charts.push(new Chart(cv, buildConfig(p.r, p.c)));
    }
    return () => charts.forEach((ch) => ch.destroy());
  }, []);

  return (
    <div style={{ position: "absolute", left: 0, top: 0, width: 1200, height: 1209, background: "#fff", fontFamily: FONT, color: "#000", overflow: "hidden" }}>
      {PANELS.map((p) => (
        <canvas
          key={`${p.r}-${p.c}`}
          ref={(el) => {
            refs.current[`${p.r}-${p.c}`] = el;
          }}
          width={CW}
          height={CH}
          style={{ position: "absolute", left: X0 + p.c * STEP - PAD_L, top: Y0 + p.r * STEP - PAD_T, width: CW, height: CH }}
        />
      ))}
      {PARAMS.map((p, i) => {
        const [lo, med, hi] = p.quant;
        return (
          <div
            key={`t${i}`}
            style={{ position: "absolute", left: X0 + i * STEP + SIZE / 2, top: Y0 + i * STEP - 28, transform: "translateX(-50%)", display: "flex", alignItems: "center", whiteSpace: "nowrap", fontSize: 13, height: 24 }}
          >
            <span>
              {LABELS[i]} = {fmt(med, 2)}
            </span>
            <span style={{ display: "flex", flexDirection: "column", fontSize: 9, lineHeight: "10px", marginLeft: 1 }}>
              <span>{"+" + (hi - med).toFixed(2)}</span>
              <span>{"\u2212" + (med - lo).toFixed(2)}</span>
            </span>
          </div>
        );
      })}
      {PARAMS.map((_, i) =>
        i === 0 ? null : (
          <div
            key={`yl${i}`}
            style={{ position: "absolute", left: 18, top: Y0 + i * STEP + SIZE / 2, transform: "translate(-50%, -50%) rotate(-90deg)", whiteSpace: "nowrap", fontSize: 12 }}
          >
            {LABELS[i]}
          </div>
        )
      )}
      {PARAMS.map((_, i) => (
        <div
          key={`xl${i}`}
          style={{ position: "absolute", left: X0 + i * STEP + SIZE / 2, top: 1195, transform: "translate(-50%, -50%)", whiteSpace: "nowrap", fontSize: 12 }}
        >
          {LABELS[i]}
        </div>
      ))}
    </div>
  );
}
